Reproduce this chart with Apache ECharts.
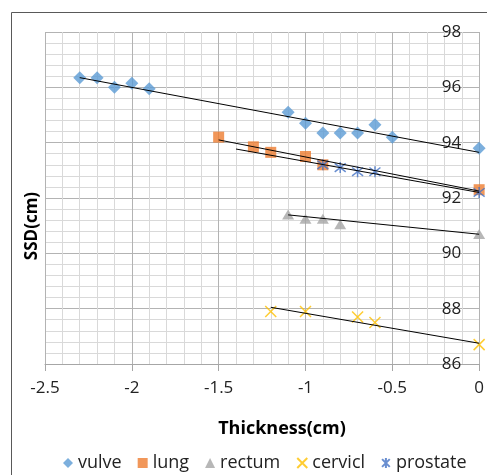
<!DOCTYPE html>
<html><head><meta charset="utf-8">
<script src="https://cdn.jsdelivr.net/npm/echarts@6/dist/echarts.min.js"></script>
<style>html,body{margin:0;padding:0;background:#fff;}#c{width:487px;height:475px;}</style>
</head><body><div id="c"></div>
<script>
// ---- data ----
const vulveX = [-2.3, -2.2, -2.1, -2.0, -1.9, -1.1, -1.0, -0.9, -0.8, -0.7, -0.6, -0.5, 0];
const vulveY = [96.35, 96.35, 96.0, 96.15, 95.95, 95.1, 94.7, 94.35, 94.35, 94.35, 94.65, 94.2, 93.8];
const lungX = [-1.5, -1.3, -1.2, -1.0, -0.9, 0];
const lungY = [94.2, 93.85, 93.65, 93.5, 93.2, 92.3];
const rectumX = [-1.1, -1.0, -0.9, -0.8, 0];
const rectumY = [91.4, 91.25, 91.25, 91.05, 90.7];
const cerviclX = [-1.2, -1.0, -0.7, -0.6, 0];
const cerviclY = [87.9, 87.9, 87.7, 87.5, 86.7];
const prostateX = [-0.9, -0.8, -0.7, -0.6, 0];
const prostateY = [93.2, 93.1, 92.95, 92.95, 92.2];
// trendline end points (as seen in the picture)
const vulveTrend = [[-2.3, 96.35], [0, 93.65]];
const lungTrend = [[-1.5, 94.1], [0, 92.25]];
const prostateTrend = [[-1.4, 93.77], [0, 92.2]];
const rectumTrend = [[-1.1, 91.39], [0, 90.69]];
const cerviclTrend = [[-1.2, 88.05], [0, 86.75]];
const seriesNames = ['vulve', 'lung', 'rectum', 'cervicl', 'prostate'];
const xAxisTitle = 'Thickness(cm)';
const yAxisTitle = 'SSD(cm)';

const pairs = (xs, ys) => xs.map((x, i) => [x, ys[i]]);
const FONT = '"Open Sans", Lato, sans-serif';

const chart = echarts.init(document.getElementById('c'), null, {renderer: 'canvas'});

const scatter = (name, xs, ys, symbol, size, style) => ({
  name, type: 'scatter', data: pairs(xs, ys), symbol, symbolSize: size,
  itemStyle: style, z: 2, emphasis: {disabled: true}
});
const trend = (pts) => ({
  type: 'line', data: pts, symbol: 'none', silent: true, z: 3,
  lineStyle: {color: '#000', width: 1}, emphasis: {disabled: true}
});

const xPath = 'path://M0,0 L10,10 M10,0 L0,10';
const starPath = 'path://M0,0 L10,10 M10,0 L0,10 M5,-1.5 L5,11.5';

chart.setOption({
  animation: false,
  grid: {left: 45, right: 4, top: 32, bottom: 111, containLabel: false},
  xAxis: {
    type: 'value', min: -2.5, max: 0, interval: 0.5,
    axisLine: {show: true, onZero: false, lineStyle: {color: '#a6a6a6', width: 1}},
    axisTick: {show: true, length: 7, lineStyle: {color: '#a6a6a6'}},
    axisLabel: {color: '#222', fontSize: 17, fontFamily: FONT, margin: 16},
    splitLine: {show: true, lineStyle: {color: '#b3b3b3', width: 1}},
    minorTick: {show: false, splitNumber: 5},
    minorSplitLine: {show: true, lineStyle: {color: '#d9d9d9', width: 1}}
  },
  yAxis: {
    type: 'value', min: 86, max: 98, interval: 2, position: 'right',
    axisLine: {show: false},
    axisTick: {show: false},
    axisLabel: {inside: true, color: '#222', fontSize: 17, fontFamily: FONT, margin: 18},
    splitLine: {show: true, lineStyle: {color: '#b3b3b3', width: 1}},
    minorTick: {show: false, splitNumber: 5},
    minorSplitLine: {show: true, lineStyle: {color: '#d9d9d9', width: 1}}
  },
  legend: {
    data: seriesNames, left: 58, top: 449, itemWidth: 10, itemHeight: 10, itemGap: 16,
    textStyle: {color: '#222', fontSize: 18, fontFamily: FONT}, selectedMode: false
  },
  graphic: [
    {type: 'rect', shape: {x: 11.5, y: 12.5, width: 700, height: 700}, style: {fill: 'none', stroke: '#595959', lineWidth: 1}, z: 0, silent: true},
    {type: 'text', x: 282, y: 429, style: {text: xAxisTitle, align: 'center', verticalAlign: 'middle', font: 'bold 18px ' + FONT, fill: '#000'}, silent: true},
    {type: 'text', rotation: Math.PI / 2, x: 32, y: 226, style: {text: yAxisTitle, align: 'center', verticalAlign: 'middle', font: 'bold 17px ' + FONT, fill: '#000'}, silent: true}
  ],
  series: [
    scatter('vulve', vulveX, vulveY, 'diamond', 13, {color: '#5b9bd5'}),
    scatter('lung', lungX, lungY, 'rect', 11, {color: '#ed7d31'}),
    scatter('rectum', rectumX, rectumY, 'triangle', [12, 10], {color: '#a5a5a5'}),
    scatter('cervicl', cerviclX, cerviclY, xPath, 11, {color: 'rgba(0,0,0,0)', borderColor: '#ffc000', borderWidth: 1.5}),
    scatter('prostate', prostateX, prostateY, starPath, 11, {color: 'rgba(0,0,0,0)', borderColor: '#4472c4', borderWidth: 1.5}),
    trend(vulveTrend), trend(lungTrend), trend(prostateTrend), trend(rectumTrend), trend(cerviclTrend)
  ]
});
</script></body></html>
